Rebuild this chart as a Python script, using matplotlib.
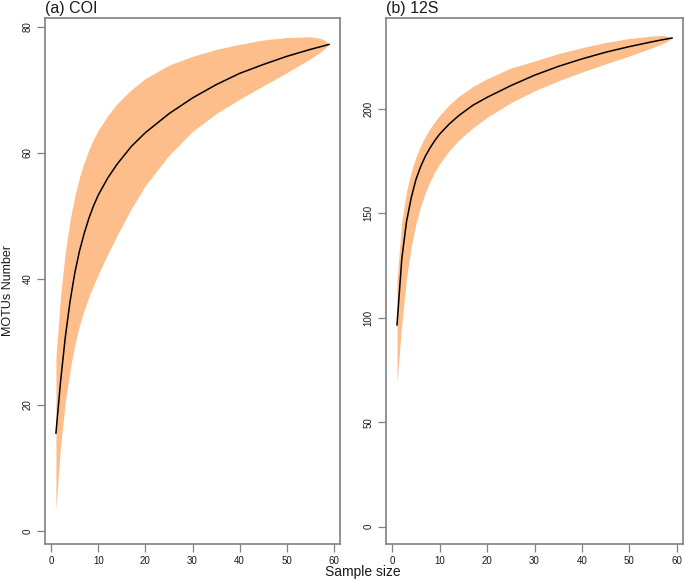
import matplotlib
matplotlib.use("Agg")
import matplotlib.pyplot as plt

plt.rcParams['font.family'] = ['Liberation Sans', 'DejaVu Sans']

# ---- data ----
coi_x = [1, 2, 3, 4, 5, 6, 7, 8, 9, 10, 12, 14, 17, 20, 25, 30, 35, 40, 45, 50, 55, 57, 58, 59]
coi_mean = [15.5, 23.8, 30.8, 36.4, 40.9, 44.4, 47.2, 49.6, 51.6, 53.3, 56.0, 58.2,
            61.0, 63.2, 66.2, 68.7, 70.8, 72.6, 74.0, 75.3, 76.4, 76.8, 77.0, 77.2]
coi_upper = [27.5, 37.5, 44.3, 49.3, 53.1, 56.1, 58.5, 60.5, 62.2, 63.6, 65.9, 67.8,
             70.0, 71.8, 73.9, 75.3, 76.4, 77.2, 77.9, 78.3, 78.4, 78.2, 77.9, 77.2]
coi_lower = [3.3, 13.5, 20.5, 25.5, 29.5, 32.6, 35.0, 37.2, 39.0, 40.7, 43.9, 46.9,
             51.1, 54.8, 59.6, 63.4, 66.2, 68.5, 70.6, 72.7, 74.9, 75.9, 76.5, 77.2]

s12_x = [1, 2, 3, 4, 5, 6, 7, 8, 9, 10, 12, 14, 17, 20, 25, 30, 35, 40, 45, 50, 55, 57, 58, 59]
s12_mean = [96.6, 128.0, 146.0, 157.5, 166.3, 172.5, 177.5, 181.5, 185.0, 188.0, 192.8, 196.8,
            201.8, 205.6, 211.2, 216.2, 220.4, 224.0, 227.2, 229.9, 232.3, 233.2, 233.6, 234.0]
s12_upper = [118.0, 146.0, 160.5, 170.0, 177.0, 182.5, 187.0, 190.8, 194.0, 197.0, 202.0, 206.0,
             210.8, 214.5, 219.6, 223.0, 226.5, 229.4, 231.9, 233.8, 235.0, 235.2, 234.9, 234.0]
s12_lower = [68.7, 97.0, 119.0, 134.0, 145.0, 153.5, 160.0, 165.5, 170.0, 173.8, 180.0, 185.0,
             191.0, 196.0, 203.0, 208.7, 213.5, 217.7, 221.6, 225.4, 229.5, 231.3, 232.4, 234.0]

titles = ["(a) COI", "(b) 12S"]
x_ticks = [0, 10, 20, 30, 40, 50, 60]
coi_yticks = [0, 20, 40, 60, 80]
s12_yticks = [0, 50, 100, 150, 200]

band_color = "#FDBE8C"
frame_color = "#808080"
text_color = "#1a1a1a"

W, H = 685, 582
fig = plt.figure(figsize=(W / 100, H / 100), dpi=100)

def make_ax(left, right, top, bottom):
    return fig.add_axes([left / W, 1 - bottom / H, (right - left) / W, (bottom - top) / H])

ax1 = make_ax(45, 340, 18, 544)
ax2 = make_ax(386, 683, 18, 544)

panels = [
    (ax1, coi_x, coi_mean, coi_upper, coi_lower, coi_yticks, (-2.09, 81.39)),
    (ax2, s12_x, s12_mean, s12_upper, s12_lower, s12_yticks, (-8.33, 243.6)),
]

for i, (ax, x, m, up, lo, yt, ylim) in enumerate(panels):
    ax.fill_between(x, lo, up, color=band_color, linewidth=0)
    ax.plot(x, m, color="black", linewidth=1.1)
    ax.set_xlim(-1.32, 61.32)
    ax.set_ylim(*ylim)
    ax.set_xticks(x_ticks)
    ax.set_yticks(yt)
    ax.set_yticklabels([str(v) for v in yt], rotation=90, va="center")
    for s in ax.spines.values():
        s.set_color(frame_color)
        s.set_linewidth(1.2)
    ax.tick_params(axis="both", direction="out", length=5.5, width=0.9,
                   color=frame_color, labelsize=7, labelcolor=text_color, pad=3.5)
    x0 = ax.get_position().x0
    fig.text(x0, 1 - 13 / H, titles[i], ha="left", va="baseline",
             fontsize=11.5, color=text_color)

fig.text(8 / W, 1 - 290 / H, "MOTUs Number", rotation=90, ha="center", va="center",
         fontsize=9, color=text_color)
fig.text(363 / W, 1 - 572 / H, "Sample size", ha="center", va="center",
         fontsize=10, color=text_color)

fig.savefig("out.png", dpi=100)
